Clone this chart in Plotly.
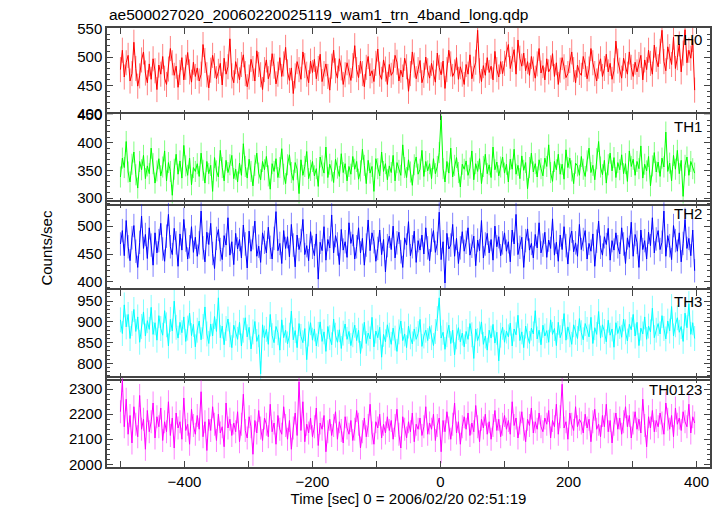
import plotly.graph_objects as go

# time axis (sec), 3-s sampling of the light curve
time = list(range(-500, 400, 3))

th0 = [478, 512, 465, 490, 503, 458, 471, 526, 480, 449, 467, 495, 509, 472, 455, 488, 461, 497, 476, 443,
       486, 470, 501, 463, 452, 479, 515, 490, 468, 484, 447, 473, 499, 460, 482, 508, 474, 456, 491, 466,
       481, 458, 470, 522, 494, 469, 446, 477, 503, 485, 462, 475, 489, 451, 498, 470, 483, 532, 467, 455,
       492, 476, 460, 487, 504, 471, 448, 465, 496, 480, 458, 511, 487, 469, 443, 478, 495, 462, 473, 506,
       484, 453, 470, 499, 466, 488, 517, 474, 459, 481, 436, 467, 492, 478, 461, 509, 485, 470, 455, 493,
       473, 496, 462, 480, 505, 457, 471, 488, 466, 442, 484, 512, 476, 463, 497, 481, 452, 469, 490, 474,
       459, 485, 520, 478, 464, 493, 471, 448, 482, 501, 467, 476, 457, 489, 514, 470, 461, 495, 479, 452,
       487, 468, 474, 503, 491, 458, 477, 465, 498, 483, 440, 471, 509, 486, 462, 478, 494, 455, 468, 500,
       476, 463, 489, 472, 456, 507, 482, 469, 493, 445, 478, 512, 488, 466, 474, 499, 461, 483, 470, 452,
       487, 470, 504, 462, 479, 491, 547, 476, 457, 485, 468, 499, 473, 484, 460, 510, 478, 465, 492, 471,
       489, 505, 522, 480, 496, 513, 470, 530, 498, 484, 507, 476, 492, 468, 501, 479, 463, 488, 515, 472,
       485, 460, 497, 474, 481, 506, 466, 490, 452, 477, 499, 483, 464, 471, 494, 509, 478, 455, 486, 473,
       468, 501, 487, 462, 479, 515, 490, 471, 458, 484, 497, 466, 480, 505, 474, 489, 461, 476, 528, 493,
       477, 463, 498, 485, 470, 509, 482, 466, 491, 474, 487, 503, 460, 495, 478, 512, 489, 470, 521, 496,
       483, 510, 547, 492, 476, 518, 501, 487, 535, 480, 499, 523, 474, 507, 548, 490, 512, 498, 531, 442]

th1 = [338, 372, 355, 402, 347, 329, 361, 383, 342, 318, 366, 351, 377, 335, 358, 344, 390, 362, 327, 349,
       371, 340, 356, 385, 331, 364, 348, 305, 352, 379, 343, 367, 336, 395, 358, 341, 372, 324, 355, 348,
       362, 339, 381, 350, 327, 366, 344, 359, 312, 373, 349, 338, 386, 355, 331, 368, 346, 360, 377, 335,
       352, 329, 363, 341, 398, 357, 336, 370, 348, 322, 359, 381, 345, 333, 366, 351, 375, 340, 316, 362,
       348, 371, 337, 355, 389, 343, 326, 360, 378, 346, 332, 364, 352, 308, 369, 341, 357, 384, 335, 350,
       366, 340, 353, 321, 374, 358, 345, 392, 337, 361, 349, 328, 370, 354, 339, 380, 346, 362, 331, 357,
       343, 375, 352, 366, 334, 349, 388, 359, 326, 368, 345, 357, 312, 371, 353, 340, 383, 348, 362, 333,
       358, 346, 377, 331, 364, 350, 341, 396, 355, 337, 369, 347, 323, 360, 374, 343, 352, 386, 339, 366,
       349, 362, 335, 371, 344, 357, 382, 448, 353, 329, 366, 345, 390, 338, 359, 373, 346, 320, 361, 352,
       367, 341, 354, 385, 333, 362, 348, 371, 326, 357, 379, 344, 360, 337, 392, 351, 365, 340, 356, 374,
       345, 361, 329, 370, 352, 388, 343, 359, 335, 376, 350, 364, 317, 355, 381, 347, 362, 338, 369, 353,
       340, 372, 357, 396, 346, 330, 366, 351, 379, 343, 361, 334, 387, 355, 372, 349, 326, 363, 358, 341,
       375, 352, 339, 367, 390, 346, 359, 333, 371, 402, 356, 342, 368, 327, 360, 381, 349, 373, 337, 364,
       351, 378, 344, 362, 330, 385, 357, 370, 341, 366, 353, 394, 336, 361, 349, 375, 322, 358, 382, 347,
       365, 339, 372, 356, 419, 348, 363, 331, 377, 352, 386, 344, 368, 303, 359, 374, 341, 366, 353, 345]

th2 = [468, 492, 447, 510, 463, 438, 479, 501, 455, 426, 471, 518, 460, 485, 442, 497, 466, 430, 488, 452,
       474, 505, 459, 437, 482, 521, 463, 449, 496, 470, 428, 486, 457, 512, 475, 441, 463, 499, 453, 480,
       446, 470, 527, 461, 436, 489, 467, 505, 451, 424, 478, 494, 458, 440, 483, 466, 515, 448, 472, 431,
       487, 459, 476, 443, 502, 468, 425, 491, 455, 479, 509, 446, 464, 435, 488, 471, 452, 498, 462, 441,
       478, 526, 456, 469, 433, 492, 460, 481, 445, 503, 466, 427, 484, 458, 474, 512, 449, 465, 438, 490,
       462, 447, 486, 405, 471, 456, 499, 439, 476, 461, 520, 452, 483, 468, 431, 494, 457, 472, 444, 506,
       469, 485, 441, 463, 497, 452, 478, 430, 466, 511, 456, 488, 472, 437, 460, 493, 449, 476, 418, 465,
       482, 458, 500, 443, 470, 489, 454, 426, 479, 466, 508, 447, 463, 491, 435, 474, 457, 484, 450, 497,
       461, 438, 475, 492, 453, 469, 525, 440, 472, 398, 487, 459, 466, 503, 446, 478, 433, 461, 490, 455,
       471, 497, 448, 464, 482, 429, 475, 456, 510, 443, 468, 487, 452, 476, 439, 500, 463, 481, 447, 470,
       488, 455, 472, 436, 493, 468, 521, 449, 462, 480, 426, 474, 495, 457, 469, 443, 485, 461, 506, 452,
       466, 489, 444, 475, 460, 513, 448, 471, 437, 484, 458, 499, 465, 432, 477, 491, 454, 470, 446, 503,
       458, 476, 492, 441, 469, 455, 486, 428, 473, 509, 462, 448, 481, 467, 496, 439, 474, 457, 488, 463,
       450, 497, 468, 433, 479, 462, 507, 446, 485, 471, 426, 493, 458, 474, 441, 489, 465, 515, 452, 477,
       492, 458, 471, 527, 446, 483, 465, 440, 501, 474, 455, 488, 436, 469, 512, 460, 478, 447, 493, 420]

th3 = [905, 872, 941, 888, 918, 860, 896, 930, 877, 912, 851, 889, 924, 866, 903, 882, 935, 870, 898, 856,
       915, 884, 868, 927, 893, 842, 906, 878, 950, 887, 861, 899, 874, 912, 853, 885, 921, 867, 894, 840,
       880, 902, 857, 889, 936, 871, 848, 895, 866, 913, 877, 958, 862, 890, 845, 884, 907, 869, 838, 892,
       873, 858, 899, 842, 880, 910, 864, 887, 835, 876, 901, 853, 869, 775, 893, 861, 882, 846, 918, 867,
       850, 889, 874, 832, 905, 862, 880, 847, 868, 926, 857, 879, 838, 896, 865, 850, 884, 809, 871, 898,
       856, 883, 842, 870, 900, 853, 876, 829, 889, 862, 845, 907, 868, 851, 881, 836, 873, 895, 858, 877,
       843, 869, 892, 855, 880, 824, 866, 899, 848, 873, 859, 911, 840, 878, 862, 887, 815, 870, 852, 893,
       868, 846, 885, 861, 829, 876, 902, 855, 871, 838, 890, 864, 847, 883, 858, 872, 906, 841, 866, 880,
       855, 889, 862, 843, 877, 908, 958, 861, 875, 834, 869, 892, 848, 880, 821, 864, 886, 852, 873, 840,
       877, 858, 896, 869, 812, 883, 855, 871, 900, 846, 866, 832, 880, 861, 894, 849, 875, 806, 868, 887,
       851, 878, 864, 897, 842, 883, 869, 916, 855, 876, 838, 890, 866, 848, 885, 871, 927, 859, 880, 845,
       892, 866, 879, 851, 905, 870, 884, 843, 899, 862, 877, 920, 856, 888, 869, 846, 893, 875, 860, 908,
       874, 857, 896, 882, 864, 911, 848, 886, 870, 925, 861, 893, 877, 852, 904, 868, 883, 839, 898, 872,
       889, 863, 907, 876, 854, 894, 881, 918, 866, 899, 843, 885, 871, 912, 858, 890, 876, 933, 862, 880,
       896, 871, 915, 884, 859, 902, 878, 937, 866, 893, 910, 875, 889, 853, 921, 886, 944, 870, 898, 860]

th0123 = [2210, 2335, 2150, 2260, 2120, 2195, 2085, 2230, 2160, 2110, 2275, 2140, 2180, 2060, 2215, 2130, 2170, 2245, 2105, 2190,
          2150, 2225, 2095, 2170, 2130, 2250, 2115, 2185, 2065, 2205, 2145, 2170, 2100, 2265, 2135, 2160, 2080, 2220, 2155, 2120,
          2195, 2140, 2290, 2110, 2170, 2055, 2180, 2135, 2230, 2160, 2095, 2200, 2125, 2150, 2070, 2245, 2145, 2180, 2115, 2165,
          2130, 2210, 2090, 2160, 2280, 2135, 2105, 2190, 2150, 2040, 2175, 2125, 2215, 2145, 2095, 2185, 2160, 2110, 2240, 2130,
          2165, 2080, 2195, 2140, 2120, 2230, 2155, 2100, 2175, 2060, 2145, 2205, 2115, 2330, 2135, 2250, 2090, 2160, 2125, 2185,
          2110, 2150, 2225, 2075, 2165, 2140, 2195, 2050, 2130, 2180, 2115, 2155, 2210, 2100, 2170, 2135, 2085, 2190, 2145, 2120,
          2175, 2095, 2140, 2215, 2160, 2065, 2130, 2185, 2110, 2155, 2240, 2125, 2080, 2170, 2145, 2200, 2105, 2160, 2125, 2190,
          2135, 2175, 2100, 2155, 2220, 2120, 2065, 2190, 2140, 2105, 2170, 2130, 2205, 2090, 2160, 2140, 2185, 2115, 2150, 2230,
          2120, 2165, 2140, 2200, 2095, 2155, 2185, 2050, 2175, 2130, 2210, 2145, 2100, 2160, 2245, 2125, 2170, 2080, 2150, 2190,
          2140, 2205, 2115, 2165, 2130, 2235, 2150, 2090, 2180, 2145, 2200, 2120, 2170, 2100, 2155, 2215, 2135, 2180, 2110, 2160,
          2195, 2140, 2175, 2120, 2250, 2155, 2185, 2105, 2165, 2210, 2140, 2090, 2180, 2155, 2225, 2125, 2170, 2140, 2205, 2150,
          2130, 2185, 2160, 2215, 2105, 2175, 2150, 2240, 2120, 2190, 2320, 2145, 2170, 2100, 2205, 2160, 2135, 2230, 2150, 2180,
          2165, 2125, 2200, 2145, 2180, 2090, 2170, 2220, 2140, 2160, 2110, 2195, 2150, 2240, 2130, 2175, 2085, 2160, 2205, 2140,
          2185, 2120, 2170, 2230, 2150, 2195, 2105, 2165, 2210, 2140, 2180, 2125, 2260, 2155, 2070, 2190, 2145, 2215, 2130, 2175,
          2150, 2205, 2165, 2120, 2245, 2180, 2140, 2195, 2110, 2225, 2160, 2185, 2135, 2210, 2170, 2150, 2240, 2125, 2190, 2165]

band_names = ["TH0", "TH1", "TH2", "TH3", "TH0123"]
band_errors = [22, 19, 21, 30, 46]
band_colors = ["#ff0000", "#00ff00", "#0000ff", "#00ffff", "#ff00ff"]
err_colors = ["rgba(255,0,0,0.5)", "rgba(0,255,0,0.5)", "rgba(0,0,255,0.5)",
              "rgba(0,255,255,0.5)", "rgba(255,0,255,0.5)"]
y_ranges = [[397, 551], [290, 451], [383, 543], [762, 977], [1989, 2346]]
y_dticks = [50, 50, 50, 50, 100]
y_minor = [10, 10, 10, 10, 20]
series = [th0, th1, th2, th3, th0123]

x_tickvals = [-500, -400, -300, -200, -100, 0, 100, 200, 300, 400]
x_ticktext = ["", "\u2212400", "", "\u2212200", "", "0", "", "200", "", "400"]

FONT = "Liberation Sans, Arial, Helvetica, sans-serif"
AX = "#444444"
LW = 1.5

W, H = 724, 516
ML, MR, MT, MB = 107, 13, 28, 40
plot_h = H - MT - MB
n = len(series)
overlap = LW / plot_h  # lets adjacent frame lines coincide

fig = go.Figure()
layout_axes = {}
for i, vals in enumerate(series):
    k = "" if i == 0 else str(i + 1)
    top = 1 - i / n + (overlap if i > 0 else 0)
    bot = 1 - (i + 1) / n
    fig.add_trace(go.Scatter(
        x=time, y=vals, mode="lines", xaxis="x" + k, yaxis="y" + k,
        line=dict(color=band_colors[i], width=1),
        error_y=dict(type="constant", value=band_errors[i], color=err_colors[i],
                     thickness=1, width=0),
        showlegend=False, hoverinfo="skip"))

    layout_axes["yaxis" + k] = dict(
        domain=[bot, min(top, 1)], anchor="x" + k,
        range=y_ranges[i], dtick=y_dticks[i], tick0=0,
        ticks="inside", ticklen=6, tickwidth=1, tickcolor=AX,
        showline=True, linecolor=AX, linewidth=LW, mirror="ticks",
        showgrid=False, zeroline=False,
        minor=dict(ticks="inside", ticklen=3, dtick=y_minor[i], tick0=0,
                   tickcolor=AX, showgrid=False),
        tickfont=dict(size=15, color="#000", family=FONT))
    xa = dict(
        anchor="y" + k, range=[-521, 421],
        tickmode="array", tickvals=x_tickvals, ticktext=x_ticktext,
        ticks="inside", ticklen=6, tickwidth=1, tickcolor=AX,
        showline=True, linecolor=AX, linewidth=LW, mirror="ticks",
        showgrid=False, zeroline=False,
        showticklabels=(i == n - 1),
        tickfont=dict(size=15, color="#000", family=FONT))
    if i == n - 1:
        xa["title"] = dict(text="Time [sec] 0 = 2006/02/20 02:51:19",
                           font=dict(size=15, color="#000", family=FONT), standoff=4)
    layout_axes["xaxis" + k] = xa

    fig.add_annotation(text=band_names[i], xref=f"x{k} domain", yref=f"y{k} domain",
                       x=0.99, y=0.985, xanchor="right", yanchor="top", showarrow=False,
                       font=dict(size=15, color="#000", family=FONT))

fig.update_layout(**layout_axes)

fig.add_annotation(text="Counts/sec", xref="paper", yref="paper", x=-0.101, y=0.5,
                   textangle=-90, showarrow=False, xanchor="center", yanchor="middle",
                   font=dict(size=15, color="#000", family=FONT))

fig.add_annotation(text="ae500027020_20060220025119_wam1_trn_4band_long.qdp",
                   xref="paper", yref="paper", x=0, y=1, xanchor="left", yanchor="bottom",
                   yshift=3, showarrow=False,
                   font=dict(size=15.5, color="#000", family=FONT))

fig.update_layout(width=W, height=H, margin=dict(l=ML, r=MR, t=MT, b=MB),
                  paper_bgcolor="white", plot_bgcolor="white")

fig.write_html("out.html", config={"displayModeBar": False},
               post_script="document.body.style.margin='0';document.body.style.overflow='hidden';")
